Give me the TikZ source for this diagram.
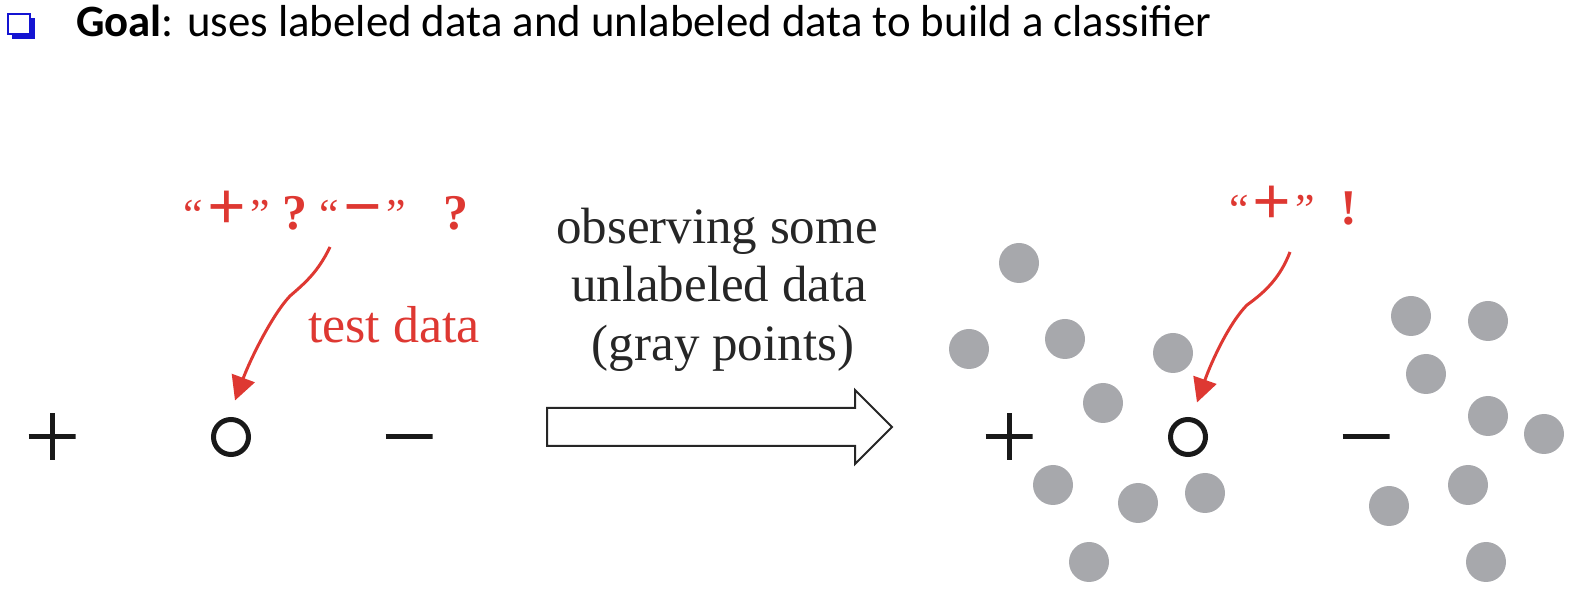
\documentclass[tikz,border=0pt]{standalone}
\usepackage{fontspec}
\setmainfont{Liberation Serif}
\newfontfamily\calibri{Carlito}
\usetikzlibrary{arrows.meta}
\definecolor{labelred}{RGB}{222,56,50}
\definecolor{dotgray}{RGB}{167,168,172}
\definecolor{bulletblue}{RGB}{20,20,210}
\newcommand\qmark[1]{{\fontsize{22}{26}\selectfont #1}}
\newcommand\bigsign[1]{{\kern2pt\bfseries\fontsize{34}{34}\selectfont #1\kern2pt}}
\tikzset{every node/.style={inner sep=0pt,outer sep=0pt},
 sym/.style={line width=2.5pt,draw=black!90},
 plusmark/.style={minimum size=23.5pt,
  path picture={\draw[sym] (path picture bounding box.west) -- (path picture bounding box.east)
   (path picture bounding box.north) -- (path picture bounding box.south);}},
 minusmark/.style={minimum width=23.5pt,minimum height=3pt,
  path picture={\draw[sym] (path picture bounding box.west) -- (path picture bounding box.east);}},
 testpt/.style={circle,draw=black!90,line width=2.5pt,minimum size=17.5pt},
 graydot/.style={fill=dotgray},
 redtext/.style={text=labelred,font=\fontsize{25}{30}\selectfont,anchor=base},
 bigtext/.style={text=black!85,font=\fontsize{25.5}{30}\selectfont,anchor=base},
 redarrow/.style={draw=labelred,line width=1.5pt,-{Triangle[length=12pt,width=12pt]}},
 }

\begin{document}
\begin{tikzpicture}[x=0.5pt,y=-0.5pt]
        \useasboundingbox (0,0) rectangle (1590,603);

        % heading
        \fill[bulletblue] (12,18) rectangle (35,39);
        \draw[bulletblue,fill=white,line width=0.8pt] (8,14) rectangle (30,34);
        \node[anchor=base west,font=\calibri\fontsize{22.4}{26}\selectfont] (goal) at (76,37)
          {\textbf{Goal}: uses labeled data and unlabeled data to build a classifier};

        % left: only labeled data
        \node[plusmark] (lplus) at (52,437) {};
        \node[testpt] (ltest) at (231,437) {};
        \node[minusmark] (lminus) at (409,437) {};
        \node[redtext] (lquest) at (326,230)
          {\qmark{“}\bigsign{+}\qmark{”}\ \textbf{?}\ \qmark{“}\bigsign{−}\qmark{”}\enspace\ \textbf{?}};
        \node[redtext,font=\fontsize{26}{30}\selectfont] (ltestlbl) at (394,343) {test data};
        \draw[redarrow] ([xshift=2pt,yshift=-8.5pt]lquest.base) .. controls (318,272) and (305,283) .. (290,296)
          .. controls (272,315) and (250,360) .. ([xshift=2pt,yshift=9.5pt]ltest.north);

        % middle: big arrow
        \node[bigtext] (obs1) at (717,244) {observing some};
        \node[bigtext] (obs2) at (719,302) {unlabeled data};
        \node[bigtext] (obs3) at (723,361) {(gray points)};
        \draw[line width=1pt,black!85] (547,408) -- (855,408) -- (855,390) -- (892,427)
          -- (855,464) -- (855,446) -- (547,446) -- cycle;

        % right: with unlabeled data
        \foreach \x/\y in {1019/263,969/349,1065/339,1173/353,1103/403,1053/485,1138/503,1205/493,1089/562,
          1411/316,1488/321,1426/374,1488/416,1544/434,1468/485,1389/506,1486/562}
          \fill[graydot] (\x,\y) circle[radius=10pt];
        \node[plusmark] (rplus) at (1009,437) {};
        \node[testpt] (rtest) at (1188,437) {};
        \node[minusmark] (rminus) at (1366,437) {};
        \node[redtext] (rans) at (1293,225) {\qmark{“}\bigsign{+}\qmark{”}\enspace\textbf{!}};
        \draw[redarrow] ([xshift=-1.5pt,yshift=-13.5pt]rans.base) .. controls (1280,278) and (1265,292) .. (1247,305)
          .. controls (1230,322) and (1212,360) .. ([xshift=4.5pt,yshift=8.5pt]rtest.north);
\end{tikzpicture}
\end{document}
